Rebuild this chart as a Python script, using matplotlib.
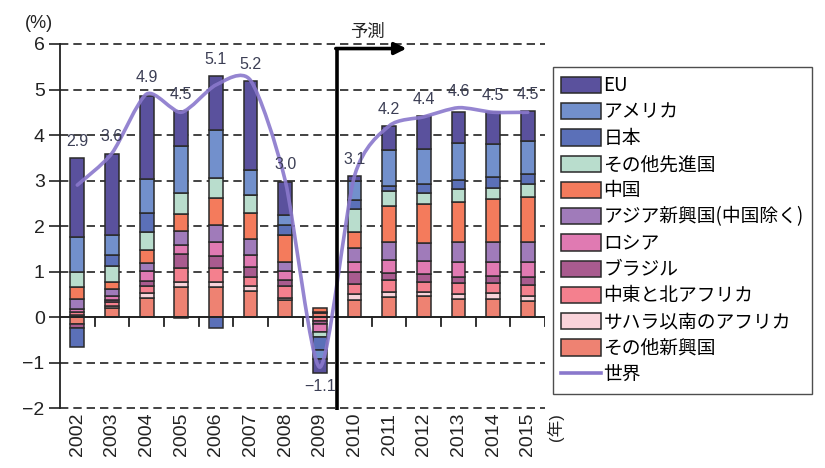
import matplotlib
matplotlib.use("Agg")
import matplotlib.pyplot as plt
import numpy as np
from matplotlib.path import Path
from matplotlib.patches import PathPatch, Patch
from matplotlib.lines import Line2D
from matplotlib import font_manager

# ---- data: contributions to world growth (percentage points) ----
years = ["2002", "2003", "2004", "2005", "2006", "2007", "2008",
         "2009", "2010", "2011", "2012", "2013", "2014", "2015"]
world = [2.9, 3.6, 4.9, 4.5, 5.1, 5.2, 3.0, -1.1, 3.1, 4.2, 4.4, 4.6, 4.5, 4.5]

eu        = [1.74, 1.78, 1.83, 0.77, 1.19, 1.95, 0.72, -0.30, 0.09, 0.53, 0.71, 0.68, 0.69, 0.66]
usa       = [0.77, 0.44, 0.74, 1.02, 1.05, 0.55, 0.22, -0.20, 0.42, 0.77, 0.77, 0.80, 0.73, 0.72]
japan     = [-0.42, 0.25, 0.43, -0.03, -0.24, 0.00, 0.21, -0.30, 0.20, 0.12, 0.20, 0.20, 0.24, 0.22]
other_adv = [0.34, 0.36, 0.38, 0.46, 0.43, 0.39, 0.00, -0.11, 0.51, 0.32, 0.25, 0.29, 0.25, 0.29]
china     = [0.26, 0.15, 0.29, 0.38, 0.59, 0.57, 0.61, 0.08, 0.36, 0.80, 0.86, 0.88, 0.94, 0.98]
asia      = [0.22, 0.15, 0.18, 0.31, 0.38, 0.35, 0.19, 0.00, 0.31, 0.39, 0.38, 0.44, 0.43, 0.43]
russia    = [0.06, 0.08, 0.21, 0.20, 0.31, 0.27, 0.20, -0.16, 0.21, 0.29, 0.30, 0.33, 0.32, 0.34]
brazil    = [-0.08, 0.05, 0.12, 0.31, 0.27, 0.22, 0.13, -0.08, 0.27, 0.16, 0.16, 0.14, 0.15, 0.18]
mena      = [0.06, 0.08, 0.16, 0.31, 0.31, 0.19, 0.26, -0.08, 0.22, 0.26, 0.23, 0.24, 0.23, 0.24]
ssa       = [0.05, 0.06, 0.11, 0.10, 0.11, 0.11, 0.04, 0.03, 0.12, 0.11, 0.09, 0.10, 0.13, 0.11]
other_em  = [-0.15, 0.19, 0.41, 0.66, 0.65, 0.58, 0.38, 0.08, 0.38, 0.44, 0.46, 0.40, 0.39, 0.35]

# stacking order from the zero line outward
series = [
    ("その他新興国", other_em, "#EE8272"),
    ("サハラ以南のアフリカ", ssa, "#F9D3DA"),
    ("中東と北アフリカ", mena, "#F4808E"),
    ("ブラジル", brazil, "#A95B8F"),
    ("ロシア", russia, "#E07AB2"),
    ("アジア新興国(中国除く)", asia, "#A07BBA"),
    ("中国", china, "#F47B5C"),
    ("その他先進国", other_adv, "#B9DDCD"),
    ("日本", japan, "#5B70B8"),
    ("アメリカ", usa, "#7290CC"),
    ("EU", eu, "#5A519D"),
]
forecast_label = "予測"
world_label = "世界"


def pick(fams):
    for f in fams:
        try:
            font_manager.findfont(f, fallback_to_default=False)
            return f
        except Exception:
            pass
    return "DejaVu Sans"


num_font = pick(["Liberation Sans Narrow", "Liberation Sans", "DejaVu Sans"])
sans_font = pick(["Liberation Sans", "DejaVu Sans"])
jp_font = "Noto Sans CJK JP"
plt.rcParams["font.family"] = [sans_font, jp_font]
plt.rcParams["axes.unicode_minus"] = True

fig = plt.figure(figsize=(8.25, 4.68), dpi=100)
ax = fig.add_axes([0.0727, 0.128, 0.588, 0.778])

x = np.arange(len(years))
width = 0.4
pos = np.zeros(len(years))
neg = np.zeros(len(years))
for name, vals, col in series:
    v = np.array(vals, dtype=float)
    bottom = np.where(v >= 0, pos, neg)
    ax.bar(x, v, width, bottom=bottom, color=col, edgecolor="#2a2a2a",
           linewidth=1.1, zorder=3)
    pos += np.where(v >= 0, v, 0)
    neg += np.where(v < 0, v, 0)

# smoothed world line (cubic Bezier through the points)
wy = np.array(world, dtype=float)
pts = np.column_stack([x, wy])
ext = np.vstack([pts[0], pts, pts[-1]])
verts = [tuple(pts[0])]
codes = [Path.MOVETO]
k = 8.0
for i in range(len(pts) - 1):
    p0, p1, p2, p3 = ext[i], ext[i + 1], ext[i + 2], ext[i + 3]
    c1 = p1 + (p2 - p0) / k
    c2 = p2 - (p3 - p1) / k
    verts += [tuple(c1), tuple(c2), tuple(p2)]
    codes += [Path.CURVE4] * 3
ax.add_patch(PathPatch(Path(verts, codes), facecolor="none",
                       edgecolor="#8A78CC", linewidth=2.6, alpha=0.9,
                       zorder=5, capstyle="round"))

# value labels
for xi, w, top, bot in zip(x, world, pos, neg):
    if w >= 0:
        ax.text(xi, max(top, w) + 0.36, f"{w:.1f}", ha="center", va="center",
                fontsize=11.5, color="#3c3f55", family=num_font, zorder=6)
    else:
        ax.text(xi, min(bot, w) - 0.3, f"{w:.1f}".replace("-", "\u2212"),
                ha="center", va="center", fontsize=11.5, color="#3c3f55",
                family=num_font, zorder=6)

# axes styling
ax.set_xlim(-0.5, len(years) - 0.5)
ax.set_ylim(-2, 6)
ax.set_yticks(range(-2, 7))
for yv in range(-2, 7):
    if yv != 0:
        ax.axhline(yv, color="#222222", linewidth=1.2, linestyle=(0, (5, 3)),
                   zorder=1, clip_on=False)
ax.axhline(0, color="#222222", linewidth=1.4, zorder=4)
for b in np.arange(0.5, len(years), 1.0):
    ax.plot([b, b], [0, -0.2], color="#222222", linewidth=1.3, zorder=4)
for s in ["top", "right", "bottom"]:
    ax.spines[s].set_visible(False)
ax.spines["left"].set_linewidth(1.3)
ax.spines["left"].set_color("#222222")
ax.spines["left"].set_zorder(6)
ax.tick_params(axis="y", direction="out", length=8, width=1.2,
               labelsize=14, pad=3, colors="#222222")
ax.set_xticks([])
for lab in ax.get_yticklabels():
    lab.set_family(sans_font)

# year labels below the axis
for xi, yl in zip(x, years):
    ax.text(xi, -2.1, yl, rotation=90, ha="center", va="top", fontsize=14,
            color="#222222", family=sans_font)
ax.text(len(years) - 0.5 + 0.3, -2.1, "(年)", rotation=90, ha="center",
        va="top", fontsize=12, color="#222222", family=[sans_font, jp_font])
ax.text(-0.5 - 0.6, 6.45, "(%)", ha="center", va="center", fontsize=13,
        color="#222222", family=sans_font)

# forecast marker
fx = 7.5
ax.plot([fx, fx], [-2.05, 5.9], color="black", linewidth=2.6, zorder=7,
        clip_on=False, solid_capstyle="butt")
ax.annotate("", xy=(9.5, 5.9), xytext=(fx - 0.04, 5.9),
            arrowprops=dict(arrowstyle="-|>,head_length=0.7,head_width=0.35",
                            color="black", lw=2.6, shrinkA=0, shrinkB=0),
            zorder=7, annotation_clip=False)
ax.text(8.36, 6.27, forecast_label, ha="center", va="center", fontsize=12.5,
        family=jp_font, color="#222222")

# legend
legend_order = list(reversed(series))
handles = [Patch(facecolor=c, edgecolor="#2a2a2a", linewidth=1.1)
           for _, _, c in legend_order]
labels = [n for n, _, _ in legend_order]
handles.append(Line2D([0], [0], color="#8A78CC", linewidth=2.6))
labels.append(world_label)
leg = fig.legend(handles, labels, loc="upper left",
                 bbox_to_anchor=(0.670, 0.857), frameon=True, fancybox=False,
                 prop={"family": [jp_font], "size": 13.5},
                 handlelength=2.1, handleheight=0.95, handletextpad=0.15,
                 labelspacing=0.28, borderpad=0.45, borderaxespad=0.0)
leg.get_frame().set_edgecolor("#222222")
leg.get_frame().set_linewidth(1.0)

fig.savefig("out.png", dpi=100)
